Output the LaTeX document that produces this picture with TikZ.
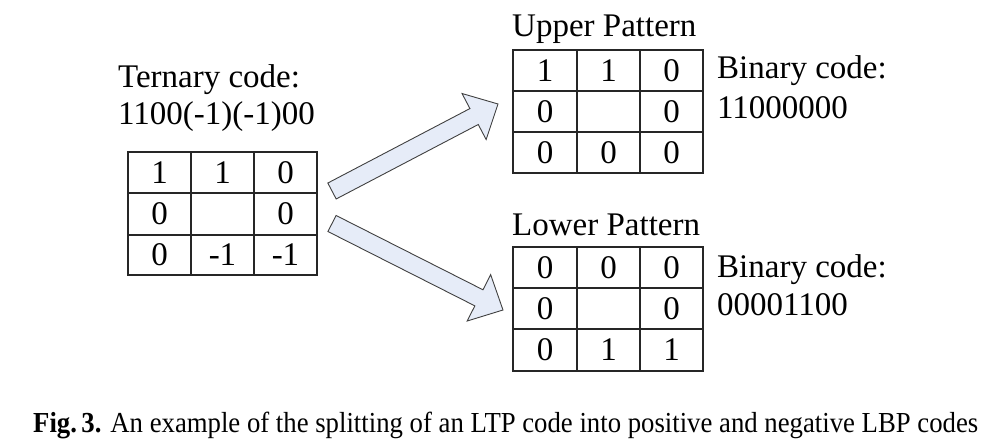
\documentclass[tikz,border=0pt]{standalone}
\usepackage{fontspec}
\setmainfont{Liberation Serif}
\usetikzlibrary{calc}
\definecolor{arrowfill}{HTML}{E6ECF8}
\definecolor{arrowline}{HTML}{404040}
\tikzset{
  txt/.style={anchor=base west, inner sep=0pt, font=\fontsize{33}{40}\selectfont},
  cell/.style={anchor=center, inner sep=0pt, font=\fontsize{33}{40}\selectfont},
  gridline/.style={line width=1.3pt, draw=black!85},
  blockarrow/.style={fill=arrowfill, draw=arrowline, line width=0.9pt, line join=miter},
}
\begin{document}
\begin{tikzpicture}[x=1pt,y=-1pt]
\useasboundingbox (0,0) rectangle (985,444);

% ---------- left (ternary) grid ----------
\draw[gridline] (128,152) rectangle (317,275);
\draw[gridline] (191,152) -- (191,275) (254,152) -- (254,275)
                (128,193) -- (317,193) (128,235) -- (317,235);
\node[cell] (t11) at (159.5,172.5) {1};
\node[cell] (t12) at (222.5,172.5) {1};
\node[cell] (t13) at (285.5,172.5) {0};
\node[cell] (t21) at (159.5,214) {0};
\node[cell] (t23) at (285.5,214) {0};
\node[cell] (t31) at (159.5,255) {0};
\node[cell] (t32) at (222.5,255) {-1};
\node[cell] (t33) at (285.5,255) {-1};

\node[txt] (tlab1) at (118,87) {Ternary code:};
\node[txt] (tlab2) at (118,124) {1100(-1)(-1)00};

% ---------- upper grid ----------
\node[txt] (ulab) at (512,37) {Upper Pattern};
\draw[gridline] (513,50) rectangle (703,173);
\draw[gridline] (577,50) -- (577,173) (640,50) -- (640,173)
                (513,91) -- (703,91) (513,132) -- (703,132);
\node[cell] (u11) at (545,70.5) {1};
\node[cell] (u12) at (608.5,70.5) {1};
\node[cell] (u13) at (671.5,70.5) {0};
\node[cell] (u21) at (545,111.5) {0};
\node[cell] (u23) at (671.5,111.5) {0};
\node[cell] (u31) at (545,152.5) {0};
\node[cell] (u32) at (608.5,152.5) {0};
\node[cell] (u33) at (671.5,152.5) {0};
\node[txt] (ub1) at (717,78) {Binary code:};
\node[txt] (ub2) at (717,118) {11000000};

% ---------- lower grid ----------
\node[txt] (llab) at (512,235) {Lower Pattern};
\draw[gridline] (513,247) rectangle (703,371);
\draw[gridline] (577,247) -- (577,371) (640,247) -- (640,371)
                (513,288) -- (703,288) (513,329) -- (703,329);
\node[cell] (l11) at (545,267.5) {0};
\node[cell] (l12) at (608.5,267.5) {0};
\node[cell] (l13) at (671.5,267.5) {0};
\node[cell] (l21) at (545,308.5) {0};
\node[cell] (l23) at (671.5,308.5) {0};
\node[cell] (l31) at (545,350) {0};
\node[cell] (l32) at (608.5,350) {1};
\node[cell] (l33) at (671.5,350) {1};
\node[txt] (lb1) at (717,277) {Binary code:};
\node[txt] (lb2) at (717,315) {00001100};

% ---------- block arrows ----------
\coordinate (ua) at (332,191);
\coordinate (ub) at (498,104);
\coordinate (uc) at ($(ub)!27pt!(ua)$);
\draw[blockarrow] ($(ua)!9pt!90:(ub)$) -- ($(uc)!9pt!-90:(ua)$) -- ($(uc)!26pt!-90:(ua)$)
  -- (ub) -- ($(uc)!26pt!90:(ua)$) -- ($(uc)!9pt!90:(ua)$) -- ($(ua)!9pt!-90:(ub)$) -- cycle;

\coordinate (la) at (332,223.5);
\coordinate (lb) at (503,310);
\coordinate (lc) at ($(lb)!27pt!(la)$);
\draw[blockarrow] ($(la)!9pt!90:(lb)$) -- ($(lc)!9pt!-90:(la)$) -- ($(lc)!26pt!-90:(la)$)
  -- (lb) -- ($(lc)!26pt!90:(la)$) -- ($(lc)!9pt!90:(la)$) -- ($(la)!9pt!-90:(lb)$) -- cycle;

% ---------- caption ----------
\node[anchor=base west, inner sep=0pt] (cap) at (33,432)
  {\resizebox{945pt}{\height}{\fontsize{29}{32}\selectfont\textbf{Fig.\,3.} An example of the splitting of an LTP code into positive and negative LBP codes}};
\end{tikzpicture}
\end{document}
